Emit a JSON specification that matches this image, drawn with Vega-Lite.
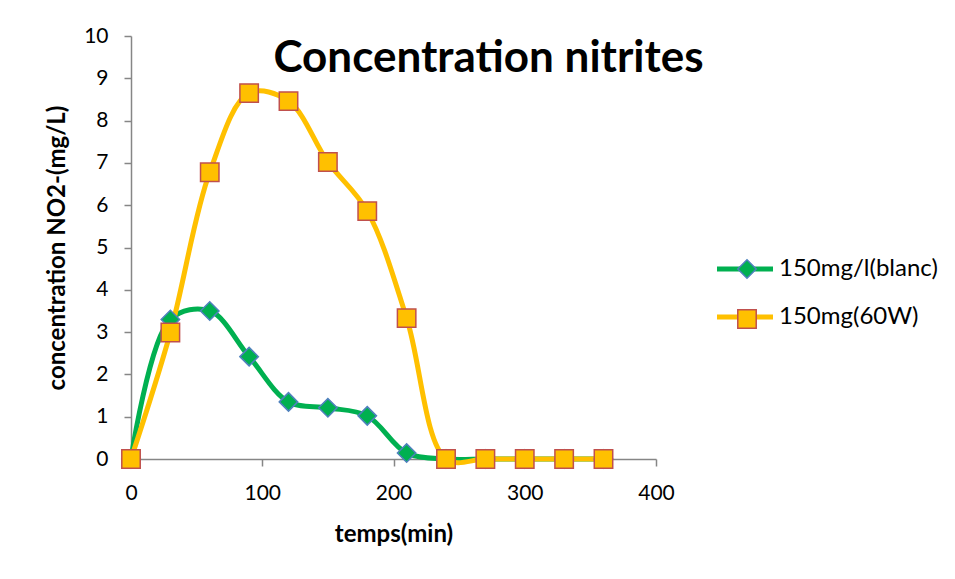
{
  "$schema": "https://vega.github.io/schema/vega-lite/v6.json",
  "autosize": "none",
  "width": 525,
  "height": 423,
  "padding": {"left": 131, "top": 36, "right": 299, "bottom": 120},
  "background": "white",
  "config": {
    "view": {"stroke": null},
    "font": "Lato",
    "axis": {
      "grid": false,
      "domainColor": "#868686",
      "domainWidth": 1.5,
      "tickColor": "#868686",
      "tickWidth": 1.5,
      "tickSize": 7,
      "labelFont": "Lato",
      "labelFontSize": 21,
      "labelColor": "#000000",
      "labelFlush": false,
      "titleFont": "Lato",
      "titleFontSize": 24,
      "titleFontWeight": "bold",
      "titleColor": "#000000"
    }
  },
  "title": {
    "text": "Concentration nitrites",
    "font": "Lato",
    "fontSize": 44,
    "fontWeight": "bold",
    "color": "#000000",
    "anchor": "middle",
    "baseline": "alphabetic",
    "offset": 0,
    "dx": 95,
    "dy": 91
  },
  "data": {
    "values": [
      {"t": 0, "c": 0, "s": "150mg/l(blanc)"},
      {"t": 30, "c": 3.3, "s": "150mg/l(blanc)"},
      {"t": 60, "c": 3.5, "s": "150mg/l(blanc)"},
      {"t": 90, "c": 2.42, "s": "150mg/l(blanc)"},
      {"t": 120, "c": 1.35, "s": "150mg/l(blanc)"},
      {"t": 150, "c": 1.21, "s": "150mg/l(blanc)"},
      {"t": 180, "c": 1.02, "s": "150mg/l(blanc)"},
      {"t": 210, "c": 0.14, "s": "150mg/l(blanc)"},
      {"t": 240, "c": 0, "s": "150mg/l(blanc)"},
      {"t": 270, "c": 0, "s": "150mg/l(blanc)"},
      {"t": 300, "c": 0, "s": "150mg/l(blanc)"},
      {"t": 330, "c": 0, "s": "150mg/l(blanc)"},
      {"t": 360, "c": 0, "s": "150mg/l(blanc)"},
      {"t": 0, "c": 0, "s": "150mg(60W)"},
      {"t": 30, "c": 2.99, "s": "150mg(60W)"},
      {"t": 60, "c": 6.78, "s": "150mg(60W)"},
      {"t": 90, "c": 8.65, "s": "150mg(60W)"},
      {"t": 120, "c": 8.46, "s": "150mg(60W)"},
      {"t": 150, "c": 7.02, "s": "150mg(60W)"},
      {"t": 180, "c": 5.86, "s": "150mg(60W)"},
      {"t": 210, "c": 3.33, "s": "150mg(60W)"},
      {"t": 240, "c": 0, "s": "150mg(60W)"},
      {"t": 270, "c": 0, "s": "150mg(60W)"},
      {"t": 300, "c": 0, "s": "150mg(60W)"},
      {"t": 330, "c": 0, "s": "150mg(60W)"},
      {"t": 360, "c": 0, "s": "150mg(60W)"}
    ]
  },
  "encoding": {
    "x": {
      "field": "t",
      "type": "quantitative",
      "scale": {"domain": [0, 400], "nice": false, "zero": true},
      "axis": {
        "values": [0, 100, 200, 300, 400],
        "title": "temps(min)",
        "labelPadding": 16,
        "titlePadding": 19
      }
    },
    "y": {
      "field": "c",
      "type": "quantitative",
      "scale": {"domain": [0, 10], "nice": false},
      "axis": {
        "values": [0, 1, 2, 3, 4, 5, 6, 7, 8, 9, 10],
        "title": "concentration NO2-(mg/L)",
        "labelPadding": 16,
        "titlePadding": 14
      }
    }
  },
  "layer": [
    {
      "mark": {"type": "line", "interpolate": "catmull-rom", "strokeWidth": 5},
      "encoding": {
        "color": {
          "field": "s",
          "type": "nominal",
          "scale": {"domain": ["150mg/l(blanc)", "150mg(60W)"], "range": ["#00B050", "#FFC000"]},
          "legend": {
            "title": null,
            "orient": "none",
            "legendX": 602,
            "legendY": 221,
            "padding": 0,
            "symbolType": "M-8,0H8",
            "symbolSize": 49,
            "symbolStrokeWidth": 5,
            "labelFont": "Lato",
            "labelFontSize": 24,
            "labelColor": "#000000",
            "labelOffset": 22,
            "rowPadding": 24
          }
        }
      }
    },
    {
      "mark": {"type": "point", "filled": true, "opacity": 1, "size": 340, "strokeWidth": 1.5},
      "encoding": {
        "color": {
          "field": "s",
          "type": "nominal",
          "scale": {"domain": ["150mg/l(blanc)", "150mg(60W)"], "range": ["#00B050", "#FFC000"]},
          "legend": {
            "title": null, "orient": "none", "legendX": 604, "legendY": 221, "padding": 0,
            "symbolSize": 340, "symbolStrokeWidth": 1.5, "labelFontSize": 24, "labelExpr": "''", "rowPadding": 24
          }
        },
        "stroke": {
          "field": "s",
          "type": "nominal",
          "scale": {"domain": ["150mg/l(blanc)", "150mg(60W)"], "range": ["#4F81BD", "#C0504D"]},
          "legend": {
            "title": null, "orient": "none", "legendX": 604, "legendY": 221, "padding": 0,
            "symbolSize": 340, "symbolStrokeWidth": 1.5, "labelFontSize": 24, "labelExpr": "''", "rowPadding": 24
          }
        },
        "shape": {
          "field": "s",
          "type": "nominal",
          "scale": {"domain": ["150mg/l(blanc)", "150mg(60W)"], "range": ["diamond", "square"]},
          "legend": {
            "title": null, "orient": "none", "legendX": 604, "legendY": 221, "padding": 0,
            "symbolSize": 340, "symbolStrokeWidth": 1.5, "labelFontSize": 24, "labelExpr": "''", "rowPadding": 24
          }
        }
      }
    }
  ],
  "resolve": {
    "scale": {"color": "independent", "stroke": "independent", "shape": "independent"},
    "legend": {"color": "independent", "stroke": "independent", "shape": "independent"}
  }
}
